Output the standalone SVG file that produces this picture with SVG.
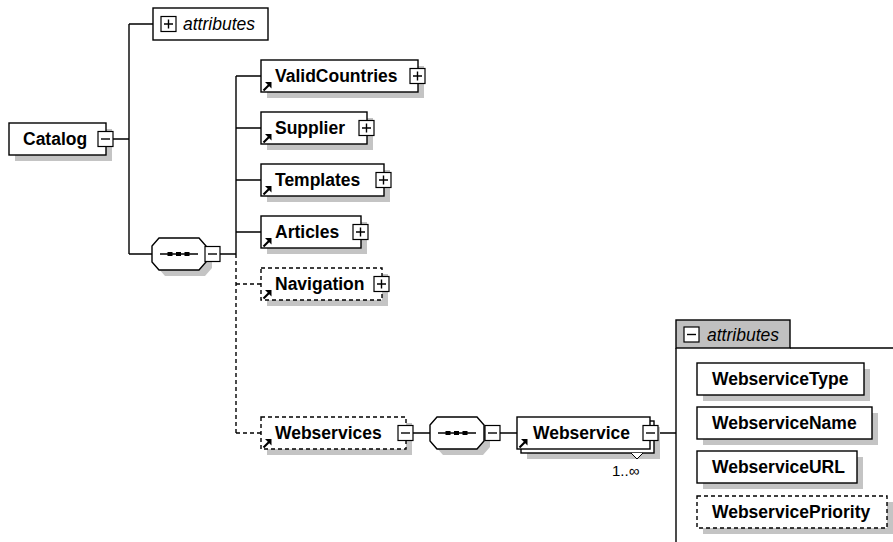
<svg xmlns="http://www.w3.org/2000/svg" width="893" height="542" viewBox="0 0 893 542">
<style>
.box{fill:#fff;stroke:#000;stroke-width:1.4}
.dbox{fill:#fff;stroke:#000;stroke-width:1.4;stroke-dasharray:4 3}
.sh{fill:#c4c4c4}
.ln{fill:none;stroke:#000;stroke-width:1.4}
.dl{fill:none;stroke:#000;stroke-width:1.4;stroke-dasharray:4 3}
.t{font-family:"Liberation Sans",Arial,sans-serif;font-size:17.5px;font-weight:bold;fill:#000}
.it{font-family:"Liberation Sans",Arial,sans-serif;font-size:17.5px;font-style:italic;fill:#000}
.sm{font-family:"Liberation Sans",Arial,sans-serif;font-size:15px;fill:#000}
.btn{fill:#fff;stroke:#000;stroke-width:1.2}
.tab{fill:#c0c0c0;stroke:#000;stroke-width:1.4}
</style>
<defs>
<g id="plus"><rect class="btn" x="0" y="0" width="15" height="15"/><path d="M3 7.5H12M7.5 3V12" stroke="#000" stroke-width="1.4"/></g>
<g id="minus"><rect class="btn" x="0" y="0" width="15" height="15"/><path d="M3 7.5H12" stroke="#000" stroke-width="1.4"/></g>
<g id="ref"><path d="M2.5 -1.5L8 -7" stroke="#000" stroke-width="2.2"/><path d="M10.5 -10L4 -10L10.5 -3.5Z" fill="#000"/></g>
<g id="seq">
<polygon class="sh" points="13,6 53,6 60,14 60,30 53,38 13,38 6,30 6,14"/>
<polygon class="box" points="7,0 47,0 54,8 54,24 47,32 7,32 0,24 0,8"/>
<path d="M8 16H46" stroke="#000" stroke-width="1.4"/>
<rect x="15.5" y="14" width="5" height="4" fill="#000"/>
<rect x="24" y="14" width="5" height="4" fill="#000"/>
<rect x="32.5" y="14" width="5" height="4" fill="#000"/>
</g>
</defs>

<g id="connectors">
<path class="ln" d="M113 139H129M129 24V254M129 24H153M129 254H152"/>
<path class="ln" d="M220 254H236M236 76V254M236 76H261M236 128H261M236 180H261M236 232H261"/>
<path class="dl" d="M236 254V433M236 284H261M236 433H261"/>
<path class="ln" d="M413 433H430M500 433H517M658 433H676"/>
</g>

<g id="attributes-top">
<rect class="box" x="153" y="8" width="115" height="32"/>
<use href="#plus" x="161" y="16.5"/>
<text class="it" x="183" y="30">attributes</text>
</g>

<g id="Catalog">
<rect class="sh" x="15" y="129" width="97" height="32"/>
<rect class="box" x="9" y="123" width="97" height="32"/>
<text class="t" x="23" y="145">Catalog</text>
<use href="#minus" x="98" y="131.5"/>
</g>

<g id="sequence1">
<use href="#seq" x="152" y="238"/>
<use href="#minus" x="205" y="246.5"/>
</g>

<g id="ValidCountries">
<rect class="sh" x="267" y="66" width="157" height="32"/>
<rect class="box" x="261" y="60" width="157" height="32"/>
<use href="#ref" x="261" y="92"/>
<text class="t" x="275" y="82">ValidCountries</text>
<use href="#plus" x="410" y="68.5"/>
</g>

<g id="Supplier">
<rect class="sh" x="267" y="118" width="106" height="32"/>
<rect class="box" x="261" y="112" width="106" height="32"/>
<use href="#ref" x="261" y="144"/>
<text class="t" x="275" y="134">Supplier</text>
<use href="#plus" x="359" y="120.5"/>
</g>

<g id="Templates">
<rect class="sh" x="267" y="170" width="123" height="32"/>
<rect class="box" x="261" y="164" width="123" height="32"/>
<use href="#ref" x="261" y="196"/>
<text class="t" x="275" y="186">Templates</text>
<use href="#plus" x="376" y="172.5"/>
</g>

<g id="Articles">
<rect class="sh" x="267" y="222" width="100" height="32"/>
<rect class="box" x="261" y="216" width="100" height="32"/>
<use href="#ref" x="261" y="248"/>
<text class="t" x="275" y="238">Articles</text>
<use href="#plus" x="353" y="224.5"/>
</g>

<g id="Navigation">
<rect class="sh" x="267" y="274" width="121" height="32"/>
<rect class="dbox" x="261" y="268" width="121" height="32"/>
<use href="#ref" x="261" y="300"/>
<text class="t" x="275" y="290">Navigation</text>
<use href="#plus" x="374" y="276.5"/>
</g>

<g id="Webservices">
<rect class="sh" x="267" y="423" width="145" height="32"/>
<rect class="dbox" x="261" y="417" width="145" height="32"/>
<use href="#ref" x="261" y="449"/>
<text class="t" x="275" y="439">Webservices</text>
<use href="#minus" x="398" y="425.5"/>
</g>

<g id="sequence2">
<use href="#seq" x="430" y="417"/>
<use href="#minus" x="485" y="425.5"/>
</g>

<g id="Webservice">
<rect class="sh" x="527" y="427" width="133" height="32"/>
<rect class="box" x="521" y="421" width="133" height="32"/>
<rect class="box" x="517" y="417" width="133" height="32"/>
<use href="#ref" x="517" y="449"/>
<text class="t" x="533" y="439">Webservice</text>
<use href="#minus" x="643" y="425.5"/>
<polyline points="631,453 637,459 643,453" fill="#fff" stroke="#000" stroke-width="1"/>
<text class="sm" x="612" y="476">1..∞</text>
</g>

<g id="attributes-panel">
<path class="ln" d="M676 348V542M790 348H893"/>
<rect class="tab" x="676" y="320" width="114" height="28"/>
<use href="#minus" x="684" y="327"/>
<text class="it" x="707" y="341">attributes</text>
</g>

<g id="WebserviceType">
<rect class="sh" x="703" y="369" width="167" height="32"/>
<rect class="box" x="697" y="363" width="167" height="32"/>
<text class="t" x="712" y="385">WebserviceType</text>
</g>

<g id="WebserviceName">
<rect class="sh" x="703" y="413" width="175" height="32"/>
<rect class="box" x="697" y="407" width="175" height="32"/>
<text class="t" x="712" y="429">WebserviceName</text>
</g>

<g id="WebserviceURL">
<rect class="sh" x="703" y="457" width="160" height="32"/>
<rect class="box" x="697" y="451" width="160" height="32"/>
<text class="t" x="712" y="473">WebserviceURL</text>
</g>

<g id="WebservicePriority">
<rect class="sh" x="703" y="502" width="190" height="32"/>
<rect class="dbox" x="697" y="496" width="190" height="32"/>
<text class="t" x="712" y="518">WebservicePriority</text>
</g>
</svg>
